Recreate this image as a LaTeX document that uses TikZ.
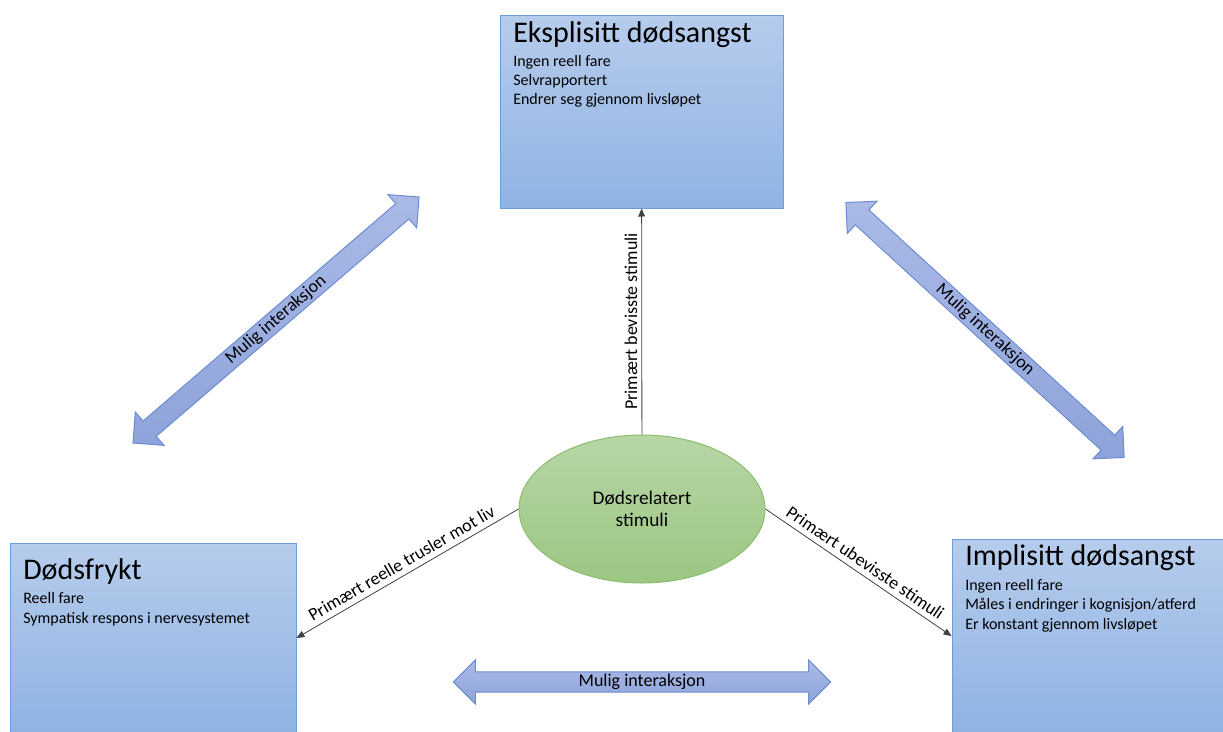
\documentclass[tikz,border=0pt]{standalone}
\usepackage{fontspec}
\setmainfont{Carlito}
\usetikzlibrary{arrows.meta,shapes.geometric,shapes.arrows}
\definecolor{boxtop}{RGB}{182,204,236}
\definecolor{boxbot}{RGB}{143,179,227}
\definecolor{boxline}{RGB}{108,157,216}
\definecolor{elltop}{RGB}{183,214,166}
\definecolor{ellbot}{RGB}{156,198,130}
\definecolor{ellline}{RGB}{140,190,110}
\definecolor{arrtop}{RGB}{170,186,230}
\definecolor{arrbot}{RGB}{142,163,218}
\definecolor{arrline}{RGB}{110,140,210}
\tikzset{
  >={Triangle[length=6pt,width=5pt]},
  box/.style={rectangle,draw=boxline,top color=boxtop,bottom color=boxbot,line width=0.75pt,inner sep=0pt},
  ttl/.style={anchor=base west,inner sep=0pt,font=\fontsize{22.5}{26}\selectfont},
  body/.style={anchor=base west,inner sep=0pt,align=left,font=\fontsize{12}{14.6}\selectfont},
  stim/.style={ellipse,draw=ellline,top color=elltop,bottom color=ellbot,line width=0.75pt,minimum width=184.5pt,minimum height=111pt,align=center,font=\fontsize{14.5}{16.5}\selectfont},
  conn/.style={->,draw=black!75,line width=0.6pt},
  lbl/.style={midway,sloped,above,font=\fontsize{13.5}{15}\selectfont,inner sep=4pt},
  lblv/.style={midway,rotate=90,anchor=south,font=\fontsize{13.5}{15}\selectfont,inner sep=3pt},
  darrow/.style={double arrow,draw=arrline,top color=arrtop,bottom color=arrbot,line width=0.75pt,minimum width=33pt,double arrow head extend=8.5pt,minimum height=283pt,inner sep=1pt,font=\fontsize{13.5}{15}\selectfont},
}
\begin{document}
\begin{tikzpicture}[x=0.75pt,y=-0.75pt]
\useasboundingbox (0,0) rectangle (1223,731);
\clip (0,0) rectangle (1223,731);
% boxes
\node[box,minimum width=212.25pt,minimum height=144pt] (eks) at (641.5,112) {};
\node[box,minimum width=214.5pt,minimum height=142.5pt] (frykt) at (153,638) {};
\node[box,minimum width=216pt,minimum height=145.5pt] (impl) at (1096,636) {};
% box texts (body placed at baseline of its last line)
\node[ttl] (eksT) at (513,43) {Eksplisitt dødsangst};
\node[body] (eksB) at (513,105) {Ingen reell fare\\Selvrapportert\\Endrer seg gjennom livsløpet};
\node[ttl] (fryktT) at (23,579) {Dødsfrykt};
\node[body] (fryktB) at (23,623) {Reell fare\\Sympatisk respons i nervesystemet};
\node[ttl] (implT) at (965,565) {Implisitt dødsangst};
\node[body] (implB) at (965,629) {Ingen reell fare\\Måles i endringer i kognisjon/atferd\\Er konstant gjennom livsløpet};
% stimulus
\node[stim] (st) at (642,509) {Dødsrelatert\\stimuli};
\draw[conn] (st) -- (eks) node[lblv] {Primært bevisste stimuli};
\draw[conn] (st.west) -- (frykt.east) node[lbl] {Primært reelle trusler mot liv};
\draw[conn] (st.east) -- (impl.west) node[lbl] {Primært ubevisste stimuli};
% interaction arrows
\node[darrow,rotate=40.7] (iaL) at (276,320) {Mulig interaksjon};
\node[darrow,rotate=-42.5] (iaR) at (985,330) {Mulig interaksjon};
\node[darrow] (iaB) at (642,682) {Mulig interaksjon};
\end{tikzpicture}
\end{document}
